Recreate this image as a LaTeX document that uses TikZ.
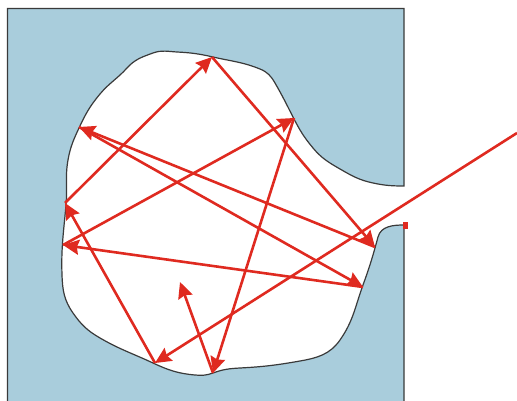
\documentclass[tikz,border=0pt]{standalone}
\usepackage{xcolor}
\usetikzlibrary{arrows.meta}
\definecolor{wallblue}{HTML}{A9CDDC}
\definecolor{rayred}{HTML}{DF2A20}
\definecolor{walldark}{HTML}{3A3A3A}
\tikzset{
  wall/.style={draw=walldark, line width=1.2pt, fill=wallblue, line join=miter},
  rayarrow/.style={-{Stealth[length=16pt,width=15pt,inset=2pt]}, line width=2.6pt, draw=rayred},
  rayentry/.style={draw=none, fill=rayred, inner sep=0pt, minimum width=5pt, minimum height=7pt}
}
\begin{document}
\begin{tikzpicture}[x=1pt,y=-1pt]
        \useasboundingbox (0,0) rectangle (517,401);
        \draw[wall] (404,186) -- (404,8.5) -- (7.5,8.5) -- (7.5,406) -- (404,406) -- (404,225)
          to[out=180,in=75] (378,237)
          to[out=255,in=70] (363,285)
          to[out=250,in=55] (340,340)
          to[out=235,in=10] (300,361)
          to[out=190,in=3] (240,368)
          to[out=183,in=20] (213,373)
          to[out=200,in=-5] (195,375)
          to[out=175,in=-25] (153,363)
          to[out=155,in=-30] (100,338)
          to[out=150,in=-55] (73,313)
          to[out=125,in=-88] (62,275)
          to[out=92,in=-95] (66,205)
          to[out=85,in=-100] (68,160)
          to[out=80,in=-115] (79,128)
          to[out=65,in=-130] (100,94)
          to[out=50,in=-132] (127,68)
          to[out=48,in=-160] (153,53)
          to[out=20,in=177] (177,52)
          to[out=-3,in=167] (213,57)
          to[out=-13,in=158] (260,69)
          to[out=-22,in=120] (275,83)
          to[out=-60,in=117] (293,117)
          to[out=-63,in=130] (313,148)
          to[out=-50,in=150] (340,169)
          to[out=-30,in=168] (373,183)
          to[out=-12,in=180] (404,186)
          -- cycle;

        \coordinate (entry) at (517,133);
        \coordinate (hitA) at (155,363);
        \coordinate (hitB) at (65,203);
        \coordinate (hitC) at (212,57);
        \coordinate (hitD) at (375,247);
        \coordinate (hitE) at (79,127);
        \coordinate (hitF) at (363,287);
        \coordinate (hitG) at (63,245);
        \coordinate (hitH) at (294,118);
        \coordinate (hitI) at (213,373);
        \coordinate (hitJ) at (180,282);
        \node[rayentry] (lip) at (405.5,225.5) {};

        \draw[rayarrow] (entry) -- (hitA);
        \draw[rayarrow] (hitA) -- (hitB);
        \draw[rayarrow] (hitB) -- (hitC);
        \draw[rayarrow] (hitC) -- (hitD);
        \draw[rayarrow] (hitD) -- (hitE);
        \draw[rayarrow] (hitE) -- (hitF);
        \draw[rayarrow] (hitF) -- (hitG);
        \draw[rayarrow] (hitG) -- (hitH);
        \draw[rayarrow] (hitH) -- (hitI);
        \draw[rayarrow] (hitI) -- (hitJ);
    \end{tikzpicture}
\end{document}
